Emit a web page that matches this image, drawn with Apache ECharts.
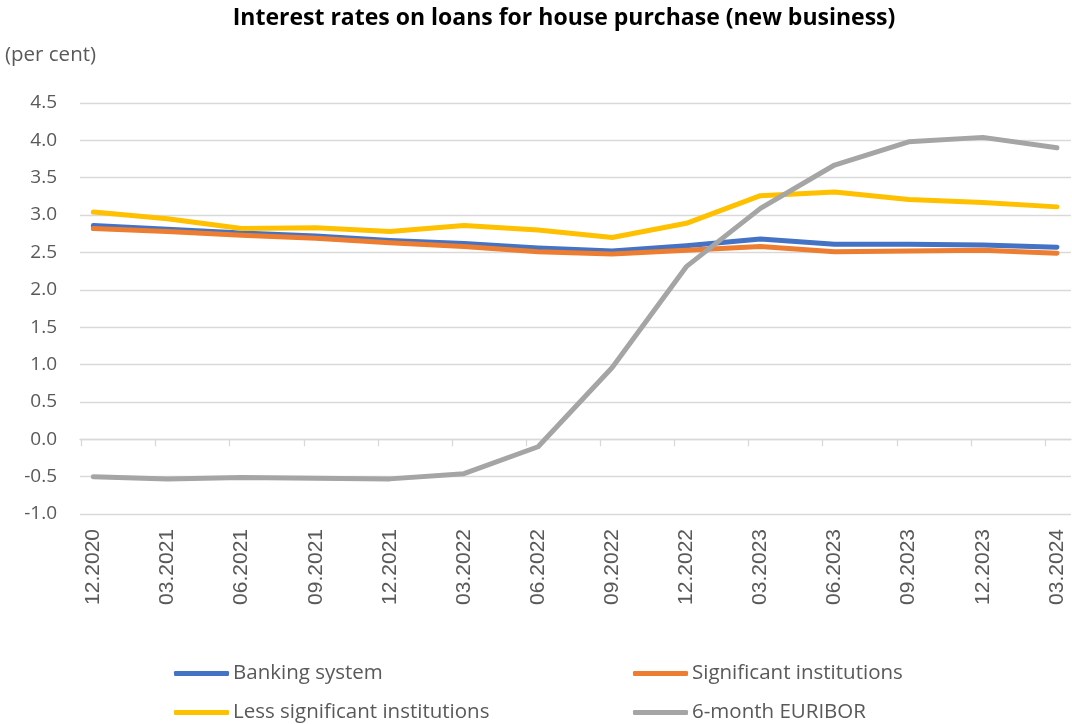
<!DOCTYPE html>
<html>
<head>
<meta charset="utf-8">
<title>Interest rates on loans for house purchase</title>
<script src="https://cdn.jsdelivr.net/npm/echarts@6/dist/echarts.min.js"></script>
<style>
  html, body { margin: 0; padding: 0; background: #fff; }
  #chart { width: 1072px; height: 724px; }
</style>
</head>
<body>
<div id="chart"></div>
<script>
// Quarter-end periods
const categories = ['12.2020', '03.2021', '06.2021', '09.2021', '12.2021', '03.2022', '06.2022',
  '09.2022', '12.2022', '03.2023', '06.2023', '09.2023', '12.2023', '03.2024'];

// Rates, per cent
const bankingSystem = [2.86, 2.81, 2.76, 2.72, 2.66, 2.62, 2.56, 2.52, 2.59, 2.68, 2.61, 2.61, 2.60, 2.57];
const significantInst = [2.82, 2.78, 2.73, 2.69, 2.63, 2.58, 2.51, 2.48, 2.53, 2.58, 2.51, 2.52, 2.53, 2.49];
const lessSignificantInst = [3.04, 2.95, 2.82, 2.83, 2.78, 2.86, 2.80, 2.70, 2.89, 3.26, 3.31, 3.21, 3.17, 3.11];
const euribor6m = [-0.50, -0.53, -0.51, -0.52, -0.53, -0.46, -0.10, 0.96, 2.31, 3.09, 3.67, 3.98, 4.04, 3.90];

const seriesNames = ['Banking system', 'Significant institutions', 'Less significant institutions', '6-month EURIBOR'];
const seriesColors = ['#4472C4', '#ED7D31', '#FFC000', '#A5A5A5'];
const seriesData = [bankingSystem, significantInst, lessSignificantInst, euribor6m];

const textColor = '#595959';
const gridColor = '#D9D9D9';
const bodyFont = 'Open Sans';

const xMin = -0.18, xMax = 13.19;
const tickValues = categories.map((c, i) => i - 0.16);
const labelValues = categories.map((c, i) => i);

const chart = echarts.init(document.getElementById('chart'), null, { renderer: 'canvas' });

const legendSlots = [
  { left: 174, top: 663 },
  { left: 633, top: 663 },
  { left: 174, top: 702 },
  { left: 633, top: 702 }
];

chart.setOption({
  backgroundColor: '#ffffff',
  animation: false,
  title: {
    text: 'Interest rates on loans for house purchase (new business)',
    left: 559,
    textAlign: 'center',
    top: 2,
    textStyle: { fontFamily: 'Open Sans', fontWeight: 'bold', fontSize: 23, color: '#000000' }
  },
  graphic: [{
    type: 'text',
    left: 5,
    top: 45,
    style: { text: '(per cent)', fontFamily: bodyFont, fontSize: 20.5, fill: textColor }
  }],
  legend: seriesNames.map((name, i) => ({
    data: [name],
    left: legendSlots[i].left,
    top: legendSlots[i].top,
    icon: 'roundRect',
    itemWidth: 55,
    itemHeight: 5,
    itemGap: 0,
    padding: 0,
    selectedMode: false,
    textStyle: { fontFamily: bodyFont, fontSize: 20.5, color: textColor, padding: [0, 0, 0, -1] }
  })),
  grid: { left: 80, right: 1, top: 103, bottom: 210, containLabel: false },
  xAxis: [
    {
      // category labels along the bottom edge
      type: 'value',
      min: xMin,
      max: xMax,
      position: 'bottom',
      axisLine: { show: false, onZero: false },
      axisTick: { show: false },
      splitLine: { show: false },
      axisLabel: {
        customValues: labelValues,
        formatter: v => categories[Math.round(v)],
        rotate: 90,
        margin: 15,
        fontFamily: 'Liberation Sans',
        fontSize: 21,
        color: textColor
      }
    },
    {
      // zero line with tick marks
      type: 'value',
      min: xMin,
      max: xMax,
      position: 'bottom',
      axisLine: { show: true, onZero: true, lineStyle: { color: gridColor, width: 1.3 } },
      axisTick: { show: true, customValues: tickValues, length: 7, lineStyle: { color: gridColor, width: 1.3 } },
      splitLine: { show: false },
      axisLabel: { show: false }
    }
  ],
  yAxis: {
    type: 'value',
    min: -1,
    max: 4.5,
    interval: 0.5,
    axisLine: { show: false },
    axisTick: { show: false },
    splitLine: { lineStyle: { color: gridColor, width: 1.3 } },
    axisLabel: {
      margin: 23,
      formatter: v => v.toFixed(1),
      fontFamily: bodyFont,
      fontSize: 19,
      color: textColor
    }
  },
  series: seriesNames.map((name, i) => ({
    name: name,
    type: 'line',
    xAxisIndex: 0,
    data: seriesData[i].map((v, j) => [j, v]),
    showSymbol: false,
    symbol: 'none',
    color: seriesColors[i],
    lineStyle: { width: 5, color: seriesColors[i], cap: 'round', join: 'round' },
    z: 2 + i
  }))
});
</script>
</body>
</html>
